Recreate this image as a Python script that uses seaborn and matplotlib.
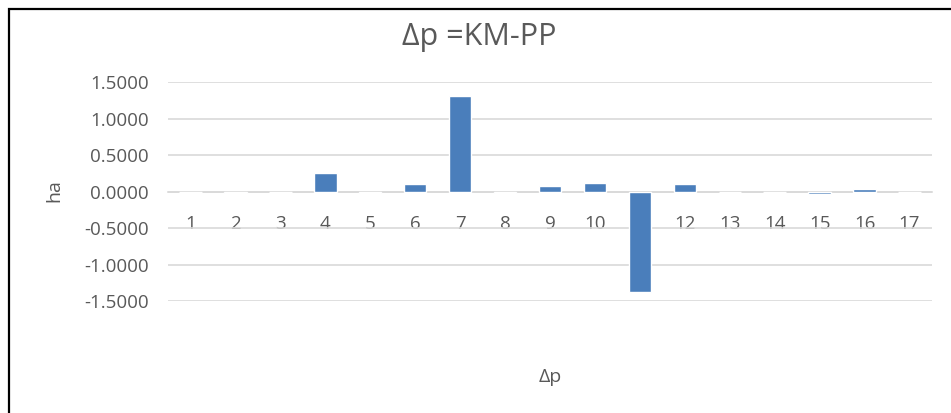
import matplotlib
matplotlib.use("Agg")
import matplotlib.pyplot as plt
from matplotlib.patches import Rectangle
from matplotlib.ticker import FixedLocator, FormatStrFormatter
import seaborn as sns
import numpy as np
import pandas as pd

# data
categories = [str(i) for i in range(1, 18)]
values = [0.0, -0.025, -0.012, 0.247, -0.02, 0.10, 1.315, -0.02, 0.074,
          0.123, -1.37, 0.10, 0.0, -0.005, -0.04, 0.03, -0.005]
y_ticks = [-1.5, -1.0, -0.5, 0.0, 0.5, 1.0, 1.5]

title = "Δp =KM-PP"
x_title = "Δp"
y_title = "ha"

sns.set_style("white")
plt.rcParams['font.family'] = ['Open Sans', 'DejaVu Sans']

TEXT = "#595959"
BAR = "#4A7EBB"
GRID = "#D9D9D9"

df = pd.DataFrame({"cat": categories, "val": values})

fig = plt.figure(figsize=(9.51, 4.13), dpi=100)
ax = fig.add_axes([168 / 951, (413 - 301) / 413, (932 - 168) / 951, (301 - 82) / 413])

sns.barplot(data=df, x="cat", y="val", color=BAR, width=0.5, ax=ax,
            saturation=1, zorder=3)

ax.set_ylim(-1.5, 1.5)
ax.set_xlim(-0.5, len(categories) - 0.5)
ax.yaxis.set_major_locator(FixedLocator(y_ticks))
ax.yaxis.set_major_formatter(FormatStrFormatter("%.4f"))
ax.grid(axis="y", color=GRID, linewidth=1.2, zorder=0)
ax.grid(axis="x", visible=False)

for s in ["top", "right", "left"]:
    ax.spines[s].set_visible(False)
ax.spines["bottom"].set_position(("data", 0))
ax.spines["bottom"].set_color(GRID)
ax.spines["bottom"].set_linewidth(1.2)
ax.spines["bottom"].set_zorder(2)

# category labels under the zero line, boundary tick marks
ax.tick_params(axis="x", which="major", length=0, pad=17, labelsize=13.5, labelcolor=TEXT)
ax.set_xticks(np.arange(-0.5, len(categories)), minor=True)
ax.tick_params(axis="x", which="minor", length=7.5, width=1.2, color="#C8C8C8", direction="out")
ax.tick_params(axis="y", length=0, pad=14, labelsize=13.5, labelcolor=TEXT)

ax.set_xlabel("")
ax.set_ylabel("")

fig.text(479 / 951, 1 - 37 / 413, title, ha="center", va="center", fontsize=22, color=TEXT)
fig.text(550 / 951, 1 - 377 / 413, x_title, ha="center", va="center", fontsize=14, color=TEXT)
fig.text(54 / 951, 1 - 191 / 413, y_title, ha="center", va="center", fontsize=14,
         color=TEXT, rotation=90)

# chart border (cropped at right and bottom in the reference)
fig.patches.append(Rectangle((8.5 / 951, -0.1), 1.2, 1.1 - 8.5 / 413, transform=fig.transFigure,
                             fill=False, edgecolor="black", linewidth=1.6))

fig.savefig("out.png", dpi=100)
